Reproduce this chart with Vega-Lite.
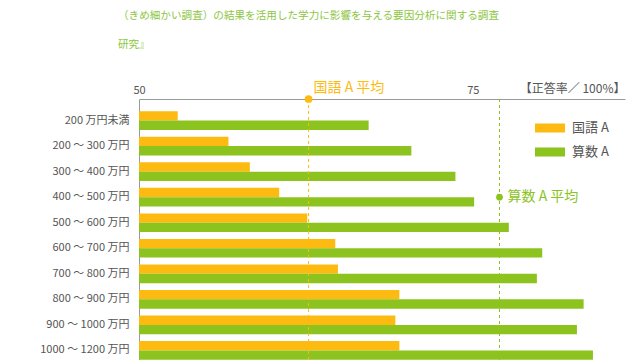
{
  "$schema": "https://vega.github.io/schema/vega-lite/v6.json",
  "width": 486,
  "height": 273,
  "autosize": {"type": "none"},
  "padding": {"left": 139, "top": 99, "right": 15, "bottom": 0},
  "background": "white",
  "config": {"font": "Noto Sans CJK JP", "view": {"stroke": null}},
  "title": {
    "text": ["（きめ細かい調査）の結果を活用した学力に影響を与える要因分析に関する調査", "研究』"],
    "anchor": "start",
    "frame": "group",
    "dx": -21,
    "lineHeight": 29,
    "fontSize": 10.6,
    "fontWeight": "normal",
    "color": "#8DC63F",
    "offset": 30
  },
  "datasets": {
    "scores": [
      {"income": "200 万円未満", "subject": "国語 A", "rate": 52.9},
      {"income": "200 万円未満", "subject": "算数 A", "rate": 67.2},
      {"income": "200 ～ 300 万円", "subject": "国語 A", "rate": 56.7},
      {"income": "200 ～ 300 万円", "subject": "算数 A", "rate": 70.4},
      {"income": "300 ～ 400 万円", "subject": "国語 A", "rate": 58.3},
      {"income": "300 ～ 400 万円", "subject": "算数 A", "rate": 73.7},
      {"income": "400 ～ 500 万円", "subject": "国語 A", "rate": 60.5},
      {"income": "400 ～ 500 万円", "subject": "算数 A", "rate": 75.1},
      {"income": "500 ～ 600 万円", "subject": "国語 A", "rate": 62.6},
      {"income": "500 ～ 600 万円", "subject": "算数 A", "rate": 77.7},
      {"income": "600 ～ 700 万円", "subject": "国語 A", "rate": 64.7},
      {"income": "600 ～ 700 万円", "subject": "算数 A", "rate": 80.2},
      {"income": "700 ～ 800 万円", "subject": "国語 A", "rate": 64.9},
      {"income": "700 ～ 800 万円", "subject": "算数 A", "rate": 79.8},
      {"income": "800 ～ 900 万円", "subject": "国語 A", "rate": 69.5},
      {"income": "800 ～ 900 万円", "subject": "算数 A", "rate": 83.3},
      {"income": "900 ～ 1000 万円", "subject": "国語 A", "rate": 69.2},
      {"income": "900 ～ 1000 万円", "subject": "算数 A", "rate": 82.8},
      {"income": "1000 ～ 1200 万円", "subject": "国語 A", "rate": 69.5},
      {"income": "1000 ～ 1200 万円", "subject": "算数 A", "rate": 84.0}
    ],
    "averages": [
      {"subject": "国語 A", "rate": 62.7, "label": "国語 A 平均"},
      {"subject": "算数 A", "rate": 77.0, "label": "算数 A 平均"}
    ]
  },
  "resolve": {"scale": {"y": "independent"}, "axis": {"y": "independent"}},
  "layer": [
    {
      "layer": [
        {
          "data": {"name": "scores"},
          "mark": {"type": "bar"},
          "encoding": {
            "y": {
              "field": "income", "type": "nominal", "sort": null,
              "scale": {"paddingInner": 0.27, "paddingOuter": 0.48},
              "axis": {"title": null, "ticks": false, "domainColor": "#999999", "labelPadding": 10, "labelFontSize": 11, "labelColor": "#555555"}
            },
            "yOffset": {"field": "subject", "type": "nominal", "sort": ["国語 A", "算数 A"]},
            "x": {
              "field": "rate", "type": "quantitative",
              "scale": {"domain": [50, 86.4], "zero": false, "nice": false},
              "axis": {
                "orient": "top", "values": [50, 75], "ticks": false, "grid": false, "labelFlush": false,
                "domainColor": "#999999", "labelFontSize": 11, "labelColor": "#555555", "labelPadding": 4,
                "title": "【正答率／ 100%】", "titleAnchor": "end", "titleAlign": "right",
                "titleX": 486, "titleY": -7, "titleBaseline": "alphabetic",
                "titleFontSize": 12, "titleFontWeight": "normal", "titleColor": "#555555"
              }
            },
            "x2": {"datum": 50},
            "color": {
              "field": "subject", "type": "nominal",
              "scale": {"domain": ["国語 A", "算数 A"], "range": ["#FDBB11", "#8CC31F"]},
              "legend": {
                "title": null, "orient": "none", "legendX": 396, "legendY": 17,
                "symbolType": "M-1,-0.3H1V0.3H-1Z", "symbolSize": 900,
                "symbolStrokeWidth": 0, "clipHeight": 24, "rowPadding": 0,
                "labelOffset": 7, "labelFontSize": 13, "labelColor": "#555555", "padding": 0
              }
            }
          }
        },
        {
          "data": {"name": "averages"},
          "mark": {"type": "rule", "strokeDash": [3, 3], "strokeWidth": 1},
          "encoding": {
            "x": {"field": "rate", "type": "quantitative"},
            "color": {"field": "subject", "type": "nominal", "legend": null}
          }
        },
        {
          "data": {"name": "averages"},
          "transform": [{"filter": "datum.subject === '算数 A'"}],
          "mark": {"type": "point", "filled": true, "size": 45, "opacity": 1},
          "encoding": {
            "x": {"field": "rate", "type": "quantitative"},
            "y": {"datum": "400 ～ 500 万円"},
            "color": {"field": "subject", "type": "nominal", "legend": null}
          }
        },
        {
          "data": {"name": "averages"},
          "transform": [{"filter": "datum.subject === '算数 A'"}],
          "mark": {"type": "text", "align": "left", "baseline": "middle", "dx": 8, "fontSize": 14},
          "encoding": {
            "x": {"field": "rate", "type": "quantitative"},
            "y": {"datum": "400 ～ 500 万円"},
            "text": {"field": "label"},
            "color": {"field": "subject", "type": "nominal", "legend": null}
          }
        }
      ]
    },
    {
      "data": {"name": "averages"},
      "transform": [{"filter": "datum.subject === '国語 A'"}],
      "layer": [
        {
          "mark": {"type": "point", "filled": true, "size": 60, "opacity": 1, "color": "#FDBB11"},
          "encoding": {
            "x": {"field": "rate", "type": "quantitative"},
            "y": {"datum": 1, "type": "quantitative", "scale": {"domain": [0, 1]}, "axis": null}
          }
        },
        {
          "mark": {"type": "text", "align": "left", "baseline": "middle", "dx": 5, "dy": -11, "fontSize": 14, "color": "#FDBB11"},
          "encoding": {
            "x": {"field": "rate", "type": "quantitative"},
            "y": {"datum": 1, "type": "quantitative", "scale": {"domain": [0, 1]}, "axis": null},
            "text": {"field": "label"}
          }
        }
      ]
    }
  ]
}
